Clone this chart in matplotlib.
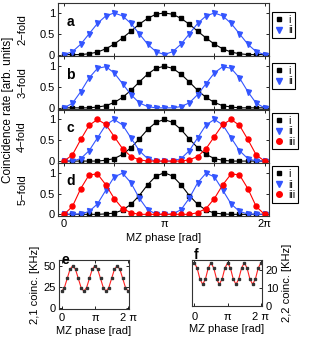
import numpy as np
import matplotlib
matplotlib.use('Agg')
import matplotlib.pyplot as plt
from matplotlib.lines import Line2D

plt.rcParams['font.family'] = ['Liberation Sans', 'DejaVu Sans']
plt.rcParams['font.size'] = 8

W, H = 309, 349

# phase steps of pi/12 over one period
phase = np.arange(25) * np.pi / 12

# normalised coincidence rates (top panels)
a_i = [0, 0, 0, 0.02, 0.06, 0.14, 0.25, 0.40, 0.56, 0.73, 0.87, 0.97, 1.00,
       0.97, 0.87, 0.73, 0.56, 0.40, 0.25, 0.14, 0.06, 0.02, 0, 0, 0]
a_ii = [0, 0.07, 0.25, 0.50, 0.75, 0.93, 1.00, 0.93, 0.75, 0.50, 0.25, 0.07, 0,
        0.07, 0.25, 0.50, 0.75, 0.93, 1.00, 0.93, 0.75, 0.50, 0.25, 0.07, 0]
b_i = [0, 0, 0, 0, 0.02, 0.05, 0.13, 0.25, 0.42, 0.62, 0.81, 0.95, 1.00,
       0.95, 0.81, 0.62, 0.42, 0.25, 0.13, 0.05, 0.02, 0, 0, 0, 0]
b_ii = [0, 0.11, 0.39, 0.72, 0.95, 0.99, 0.84, 0.58, 0.32, 0.12, 0.03, 0, 0,
        0, 0.03, 0.12, 0.32, 0.58, 0.84, 0.99, 0.95, 0.72, 0.39, 0.11, 0]
c_i = [0, 0, 0, 0, 0, 0.02, 0.06, 0.16, 0.32, 0.53, 0.76, 0.93, 1.00,
       0.93, 0.76, 0.53, 0.32, 0.16, 0.06, 0.02, 0, 0, 0, 0, 0]
c_ii = [0, 0, 0.06, 0.25, 0.56, 0.87, 1.00, 0.87, 0.56, 0.25, 0.06, 0, 0,
        0, 0.06, 0.25, 0.56, 0.87, 1.00, 0.87, 0.56, 0.25, 0.06, 0, 0]
c_iii = [0, 0.15, 0.52, 0.86, 1.00, 0.88, 0.59, 0.30, 0.11, 0.03, 0, 0, 0,
         0, 0, 0.03, 0.11, 0.30, 0.59, 0.88, 1.00, 0.86, 0.52, 0.15, 0]
d_i = [0, 0, 0, 0, 0, 0.01, 0.03, 0.10, 0.24, 0.45, 0.71, 0.92, 1.00,
       0.92, 0.71, 0.45, 0.24, 0.10, 0.03, 0.01, 0, 0, 0, 0, 0]
d_ii = [0, 0, 0.01, 0.07, 0.25, 0.58, 0.90, 0.99, 0.76, 0.39, 0.11, 0.01, 0,
        0.01, 0.11, 0.39, 0.76, 0.99, 0.90, 0.58, 0.25, 0.07, 0.01, 0, 0]
d_iii = [0, 0.19, 0.62, 0.95, 0.97, 0.71, 0.38, 0.14, 0.04, 0, 0, 0, 0,
         0, 0, 0, 0.04, 0.14, 0.38, 0.71, 0.97, 0.95, 0.62, 0.19, 0]

# raw coincidence rates in kHz (bottom panels)
e_rate = [20, 24.4, 35, 45.6, 50, 45.6, 35, 24.4, 20, 24.4, 35, 45.6, 50,
          45.6, 35, 24.4, 20, 24.4, 35, 45.6, 50, 45.6, 35, 24.4, 20]
f_rate = [24, 21, 15, 12, 15, 21, 24, 21, 15, 12, 15, 21, 24,
          21, 15, 12, 15, 21, 24, 21, 15, 12, 15, 21, 24]

panels = [
    ('a', '2\u2212fold', [a_i, a_ii], 0.83),
    ('b', '3\u2212fold', [b_i, b_ii], 0.87),
    ('c', '4\u2212fold', [c_i, c_ii, c_iii], 0.93),
    ('d', '5\u2212fold', [d_i, d_ii, d_iii], 0.93),
]
names = ['i', 'ii', 'iii']
colors = ['black', '#3355ff', '#ff0000']
markers = ['s', 'v', 'o']
msizes = [3, 3.6, 3.6]


def px_rect(x0, y0, x1, y1):
    return [x0 / W, 1 - y1 / H, (x1 - x0) / W, (y1 - y0) / H]


def style_axes(ax):
    ax.tick_params(direction='in', top=True, right=True, length=2.5, width=0.6, pad=2)
    for s in ax.spines.values():
        s.set_linewidth(0.8)
        s.set_color('#333333')


fig = plt.figure(figsize=(W / 100, H / 100), dpi=100)

top, ph = 3.0, 53.25
for n, (letter, ylab, series, leg_y) in enumerate(panels):
    y0 = top + n * ph
    ax = fig.add_axes(px_rect(57.7, y0, 269.3, y0 + ph))
    handles = []
    for k, vals in enumerate(series):
        ax.plot(phase, vals, '-', color=colors[k], lw=0.8)
        ax.plot(phase, vals, markers[k], color=colors[k], ms=msizes[k], mec=colors[k])
        handles.append(Line2D([], [], ls='none', marker=markers[k], color=colors[k],
                              ms=msizes[k] + 0.4, label=names[k]))
    ax.set_xlim(-0.2, 2 * np.pi + 0.15)
    ax.set_ylim(-0.04, 1.24)
    ax.set_yticks([0, 0.5, 1])
    ax.set_yticklabels(['0', '0.5', '1'])
    ax.set_xticks(np.arange(5) * np.pi / 2)
    if n == 3:
        ax.set_xticklabels(['0', '', '\u03c0', '', '2\u03c0'])
        ax.set_xlabel('MZ phase [rad]', labelpad=3)
    else:
        ax.set_xticklabels([])
    style_axes(ax)
    ax.text(0.04, 0.65, letter, transform=ax.transAxes, fontsize=10,
            fontweight='bold', va='center', ha='left')
    ax.set_ylabel(ylab, labelpad=9)
    leg = ax.legend(handles=handles, loc='upper left', bbox_to_anchor=(1.012, leg_y),
                    borderaxespad=0, fontsize=7.5, handlelength=0.8, handletextpad=0.5,
                    labelspacing=0.05, borderpad=0.25, fancybox=False, framealpha=1)
    leg.get_frame().set_edgecolor('black')
    leg.get_frame().set_linewidth(0.8)

fig.text(8 / W, 1 - 110 / H, 'Coincidence rate [arb. units]', rotation=90,
         ha='center', va='center', fontsize=8.5)

# bottom left: 2,1 coincidences
ax_e = fig.add_axes(px_rect(59, 260, 129, 309))
ax_e.plot(phase, e_rate, '-', color='#ff2020', lw=0.8)
ax_e.plot(phase, e_rate, 's', color='#333333', ms=1.8)
ax_e.set_xlim(-0.25, 2 * np.pi + 0.07)
ax_e.set_ylim(-0.8, 56.7)
ax_e.set_yticks([0, 25, 50])
ax_e.set_xticks([0, np.pi, 2 * np.pi])
ax_e.set_xticklabels(['0', '\u03c0', '2 \u03c0'])
ax_e.set_xlabel('MZ phase [rad]', labelpad=2)
ax_e.set_ylabel('2,1 coinc. [KHz]', labelpad=3)
style_axes(ax_e)
ax_e.tick_params(axis='x', pad=3)
ax_e.text(0.03, 1.0, 'e', transform=ax_e.transAxes, fontsize=10,
          fontweight='bold', va='center', ha='left')

# bottom right: 2,2 coincidences
ax_f = fig.add_axes(px_rect(191.7, 260, 261.7, 306))
ax_f.plot(phase, f_rate, '-', color='#ff2020', lw=0.8)
ax_f.plot(phase, f_rate, 's', color='#333333', ms=1.8)
ax_f.set_xlim(-0.25, 2 * np.pi + 0.07)
ax_f.set_ylim(0, 25.5)
ax_f.set_yticks([0, 10, 20])
ax_f.set_xticks([0, np.pi, 2 * np.pi])
ax_f.set_xticklabels(['0', '\u03c0', '2 \u03c0'])
ax_f.set_xlabel('MZ phase [rad]', labelpad=2)
ax_f.yaxis.tick_right()
ax_f.yaxis.set_label_position('right')
ax_f.set_ylabel('2,2 coinc. [KHz]', labelpad=3)
style_axes(ax_f)
ax_f.tick_params(labelleft=False, labelright=True)
ax_f.tick_params(axis='x', pad=4)
ax_f.tick_params(axis='y', pad=3)
ax_f.text(0.03, 1.1, 'f', transform=ax_f.transAxes, fontsize=10,
          fontweight='bold', va='center', ha='left')

fig.savefig('out.png', dpi=100)
